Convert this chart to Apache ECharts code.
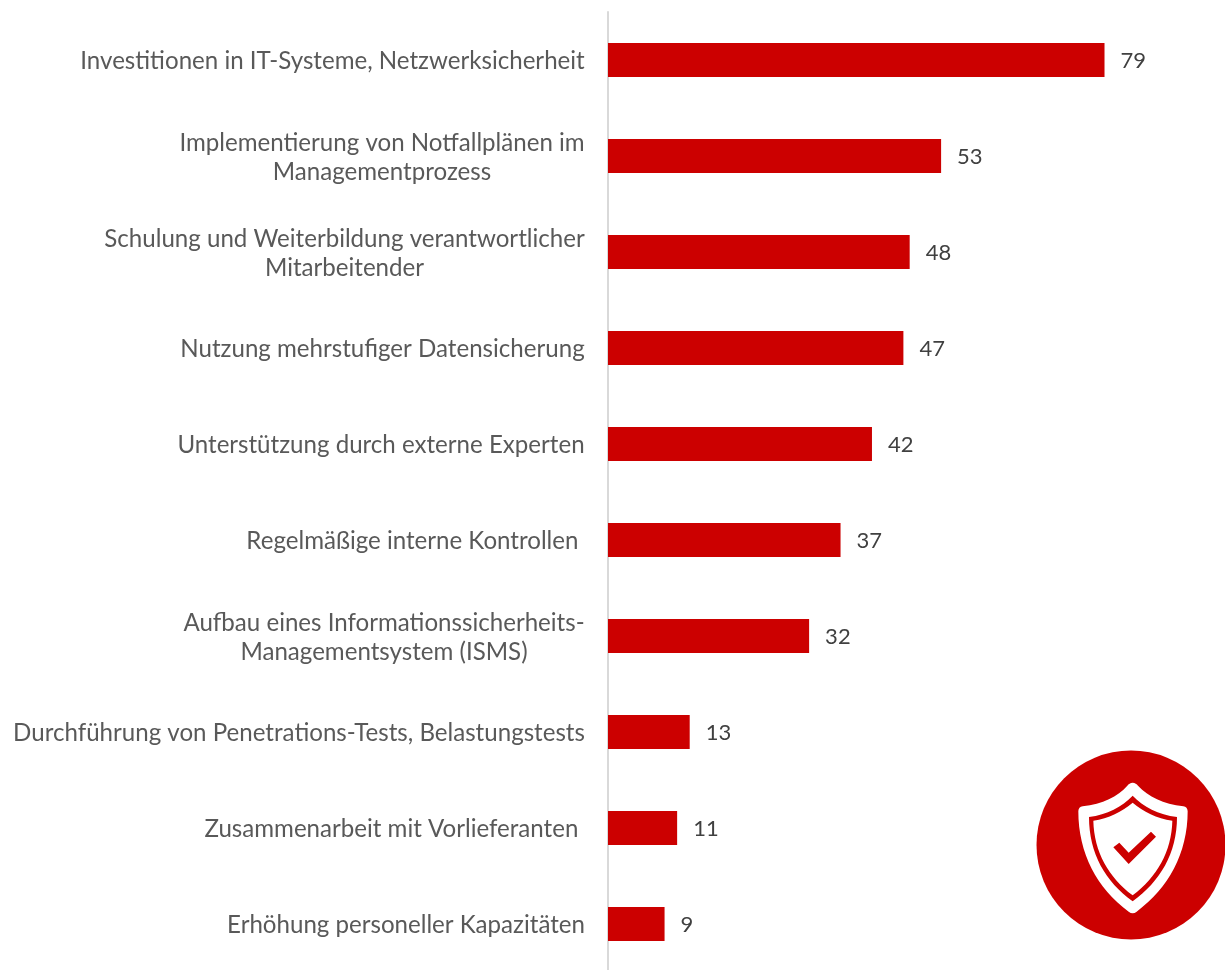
<!DOCTYPE html>
<html><head><meta charset="utf-8"><style>html,body{margin:0;padding:0;background:#fff}#c{width:1225px;height:970px}</style>
<script src="https://cdn.jsdelivr.net/npm/echarts@6/dist/echarts.min.js"></script></head><body><div id="c"></div>
<script>
const categories=["Investitionen in IT-Systeme, Netzwerksicherheit","Implementierung von Notfallplänen im\nManagementprozess","Schulung und Weiterbildung verantwortlicher\nMitarbeitender","Nutzung mehrstufiger Datensicherung","Unterstützung durch externe Experten","Regelmäßige interne Kontrollen ","Aufbau eines Informationssicherheits-\nManagementsystem (ISMS)","Durchführung von Penetrations-Tests, Belastungstests","Zusammenarbeit mit Vorlieferanten ","Erhöhung personeller Kapazitäten"];
const values=[79,53,48,47,42,37,32,13,11,9];
const F='Lato, "Open Sans", sans-serif';
const labelSize=24.1;
const ctx=document.createElement('canvas').getContext('2d');
ctx.font=labelSize+'px '+F;
const rich={};
categories.forEach((c,i)=>{
  const w=Math.ceil(Math.max(...c.split('\n').map(s=>ctx.measureText(s).width)));
  rich['l'+i]={width:w,align:'center',color:'#595959',fontSize:labelSize,fontFamily:F,lineHeight:29};
});
function labelFmt(v,i){return v.split('\n').map(s=>'{l'+i+'|'+s+'}').join('\n');}
const chart=echarts.init(document.getElementById('c'),null,{renderer:'canvas'});
const outer='M338 128C345 128 350 132 354 137C385 170 430 192 490 199C498 200 503 206 503 214C503 340 445 445 350 515C342 521 334 521 326 515C231 445 175 340 175 214C175 206 180 200 188 199C248 192 293 170 322 137C326 132 331 128 338 128Z';
const ring='M338 167C370 200 415 224 471 231C471 340 420 425 338 484C256 425 207 340 207 231C261 224 306 200 338 167Z';
const inner='M338 188C370 215 410 235 457 242C455 335 410 412 338 466C266 412 222 335 220 242C266 235 306 215 338 188Z';
const check='M280 322L298 308L326 338L393 275L408 290L326 372Z';
const svg=`<svg xmlns="http://www.w3.org/2000/svg" width="615" height="630" viewBox="0 0 615 630"><path d="${outer}" fill="#fff"/><path d="${ring}" fill="#c00"/><path d="${inner}" fill="#fff"/><path d="${check}" fill="#c00"/></svg>`;
chart.setOption({animation:false,
grid:{left:608,top:12,width:502.8,height:960,outerBoundsMode:'none'},
xAxis:{type:'value',min:0,max:80,show:false},
yAxis:{type:'category',inverse:true,offset:1,data:categories,axisLine:{show:true,lineStyle:{color:'#d9d9d9',width:2}},axisTick:{show:false},
axisLabel:{margin:22,interval:0,padding:[3,0,0,0],formatter:labelFmt,rich}},
series:[{type:'bar',data:values,barWidth:34,itemStyle:{color:'#cc0000'},label:{show:true,position:'right',distance:16,offset:[0,1],color:'#404040',fontSize:22,fontFamily:F}}],
graphic:[{type:'circle',shape:{cx:1131,cy:845,r:94.5},style:{fill:'#cc0000'}},
 {type:'image',style:{image:'data:image/svg+xml;charset=utf-8,'+encodeURIComponent(svg),x:1020,y:740,width:205,height:210}}]
});
</script></body></html>
